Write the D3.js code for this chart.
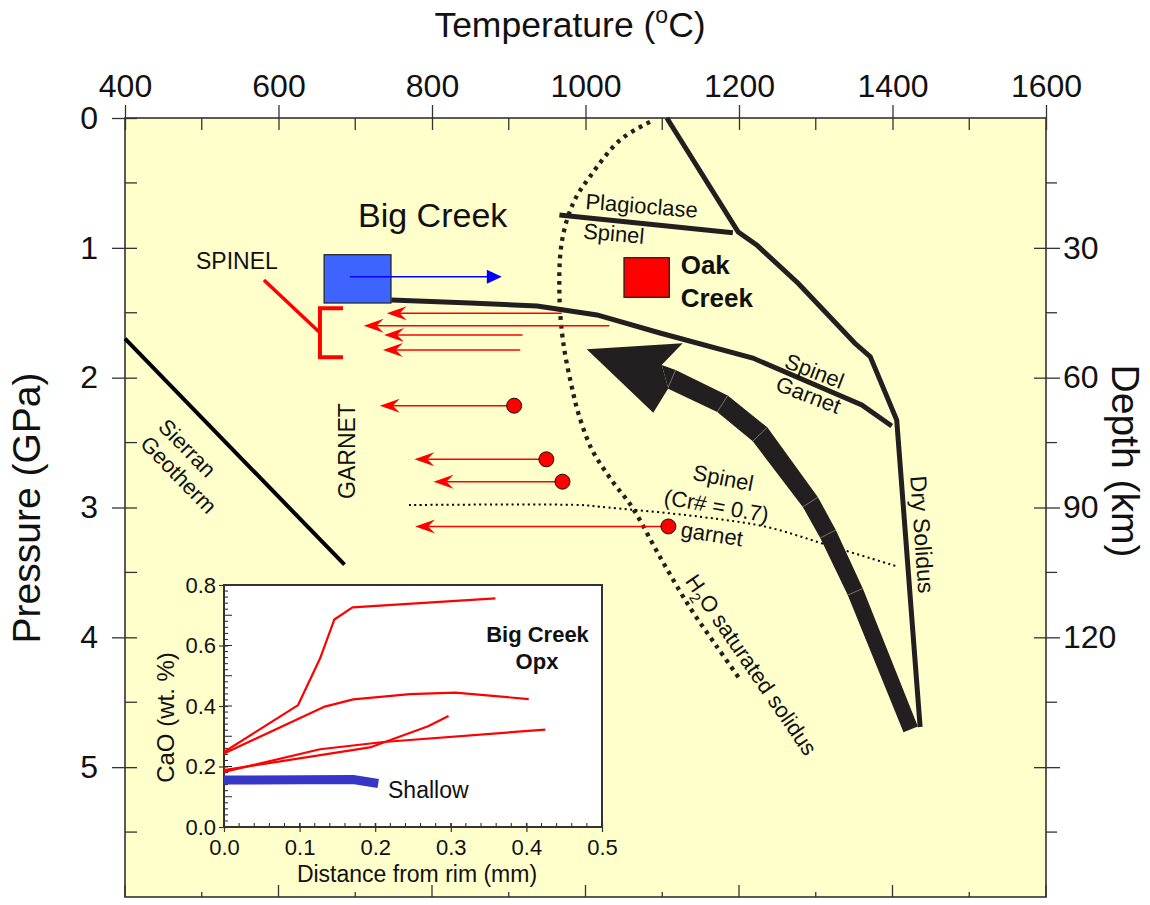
<!DOCTYPE html>
<html>
<head>
<meta charset="utf-8">
<script src="https://cdn.jsdelivr.net/npm/d3@7"></script>
<style>
  html, body { margin: 0; padding: 0; background: #ffffff; }
  svg { display: block; font-family: "Liberation Sans", Arial, Helvetica, sans-serif; }
</style>
</head>
<body>
<svg id="chart" width="1150" height="905"></svg>
<script>
// ---------- axis ranges and ticks ----------
const tempDomain = [400, 1600];
const pressureDomain = [0, 6];
const depthDomain = [0, 180];
const tempTickLabels = [400, 600, 800, 1000, 1200, 1400, 1600];
const tempMinorTicks = [500, 700, 900, 1100, 1300, 1500];
const pressureTickLabels = [0, 1, 2, 3, 4, 5];
const pressureMinorTicks = [0.5, 1.5, 2.5, 3.5, 4.5, 5.5];
const depthTickLabels = [30, 60, 90, 120];
const depthMajorTicks = [30, 60, 90, 120, 150];
const depthMinorTicks = [15, 45, 75, 105, 135, 165];

// ---------- phase boundaries and reference curves, [T (°C), P (GPa)] ----------
const sierranGeotherm = [[400, 1.70], [686, 3.44]];
const plagioclaseSpinel = [[966, 0.747], [1192, 0.883]];
const spinelGarnet = [[747, 1.402], [850, 1.425], [937, 1.448], [1015, 1.517],
                      [1097, 1.656], [1218, 1.849], [1360, 2.211], [1399, 2.372]];
const drySolidus = [[1106, 0], [1199, 0.878], [1223, 0.978], [1277, 1.273],
                    [1351, 1.735], [1371, 1.838], [1405.5, 2.326], [1436, 4.691]];
const wetSolidus = [[1084, 0.03], [1045, 0.17], [1006, 0.45], [984, 0.655], [969, 0.96],
                    [966, 1.35], [971, 1.73], [984, 2.12], [991, 2.28], [1008, 2.55],
                    [1034, 2.79], [1061, 3.0], [1097, 3.38], [1136, 3.77], [1171, 4.07], [1202, 4.33]];
const spinelGarnetCr07 = [[770, 2.981], [993, 2.981], [1019, 2.994], [1149, 3.071],
                          [1236, 3.150], [1322, 3.302], [1407, 3.456]];

// decompression path (broad arrow)
const pathHead = { tip: [1001.6, 1.782], upperBarb: [1126.6, 1.735], lowerBarb: [1088.3, 2.270],
                   backUpper: [1099.3, 1.902], backLower: [1107.9, 2.082] };
const pathBand = [[1112.3, 2.012], [1178.5, 2.201], [1227.4, 2.436], [1293, 2.958],
                  [1316, 3.204], [1351.5, 3.649], [1423.7, 4.709]];

// xenolith equilibration conditions
const bigCreekBox = { t0: 659.4, t1: 746.6, p0: 1.053, p1: 1.425 };
const oakCreekBox = { t0: 1050.2, t1: 1109.2, p0: 1.076, p1: 1.381 };
const bigCreekHeating = { p: 1.222, from: 693, to: 891 };
const spinelCooling = [
  { p: 1.504, from: 969, to: 741 },
  { p: 1.600, from: 1031, to: 711 },
  { p: 1.672, from: 918, to: 737.5 },
  { p: 1.787, from: 915, to: 736 }
];
const garnetCooling = [
  { p: 2.216, from: 907, to: 732 },
  { p: 2.629, from: 949, to: 777 },
  { p: 2.801, from: 970, to: 802 },
  { p: 3.146, from: 1108, to: 778 }
];
const spinelBracket = { t: 654, tEnd: 684, p0: 1.466, p1: 1.843, leaderFrom: [581, 1.248] };

// ---------- inset: CaO profiles in orthopyroxene, [distance (mm), CaO (wt.%)] ----------
const insetXTicks = [0, 0.1, 0.2, 0.3, 0.4, 0.5];
const insetYTicks = [0, 0.2, 0.4, 0.6, 0.8];
const opxProfiles = [
  [[0, 0.248], [0.098, 0.403], [0.127, 0.557], [0.146, 0.686], [0.170, 0.726], [0.359, 0.756]],
  [[0, 0.243], [0.132, 0.397], [0.171, 0.422], [0.246, 0.439], [0.306, 0.444], [0.403, 0.423]],
  [[0, 0.182], [0.127, 0.257], [0.211, 0.281], [0.425, 0.322]],
  [[0, 0.188], [0.193, 0.263], [0.270, 0.333], [0.297, 0.367]]
];
const shallowProfile = [[0, 0.155], [0.171, 0.157], [0.204, 0.144]];

// ---------- drawing ----------
const FONT = '"Liberation Sans", Arial, Helvetica, sans-serif';
const INK = "#231f20";
const svg = d3.select("#chart");
const plot = { left: 125, right: 1046, top: 118, bottom: 897 };

const x = d3.scaleLinear().domain(tempDomain).range([plot.left, plot.right]);
const y = d3.scaleLinear().domain(pressureDomain).range([plot.top, plot.bottom]);
const yDepth = d3.scaleLinear().domain(depthDomain).range([plot.top, plot.bottom]);
const line = d3.line().x(d => x(d[0])).y(d => y(d[1]));

// plot background
svg.append("rect")
  .attr("x", plot.left).attr("y", plot.top)
  .attr("width", plot.right - plot.left).attr("height", plot.bottom - plot.top)
  .attr("fill", "#ffffcc");

function styleAxis(g, size) {
  g.attr("font-family", FONT);
  g.select(".domain").remove();
  g.selectAll(".tick line").attr("stroke", "#333").attr("stroke-width", 1.3);
  g.selectAll(".tick text").attr("font-size", size).attr("fill", "#111");
}

// top: temperature
const topAxis = svg.append("g").attr("transform", `translate(0,${plot.top})`)
  .call(d3.axisTop(x).tickValues(tempTickLabels).tickSize(13).tickPadding(8).tickFormat(d3.format("d")));
styleAxis(topAxis, 32);
topAxis.selectAll(".tick line").attr("y1", 12);
svg.append("g").selectAll("line").data(tempMinorTicks).join("line")
  .attr("x1", d => x(d)).attr("x2", d => x(d))
  .attr("y1", plot.top).attr("y2", plot.top + 12)
  .attr("stroke", "#333").attr("stroke-width", 1.3);

// bottom ticks (inward only)
svg.append("g").selectAll("line").data(tempTickLabels.concat(tempMinorTicks)).join("line")
  .attr("x1", d => x(d)).attr("x2", d => x(d))
  .attr("y1", plot.bottom)
  .attr("y2", d => plot.bottom - (tempTickLabels.includes(d) ? 12 : 5))
  .attr("stroke", "#333").attr("stroke-width", 1.3);

// left: pressure
const leftAxis = svg.append("g").attr("transform", `translate(${plot.left},0)`)
  .call(d3.axisLeft(y).tickValues(pressureTickLabels).tickSize(13).tickPadding(14).tickFormat(d3.format("d")));
styleAxis(leftAxis, 32);
leftAxis.selectAll(".tick line").attr("x1", 12);
svg.append("g").selectAll("line").data(pressureMinorTicks).join("line")
  .attr("x1", plot.left).attr("x2", plot.left + 12)
  .attr("y1", d => y(d)).attr("y2", d => y(d))
  .attr("stroke", "#333").attr("stroke-width", 1.3);

// right: depth
const rightAxis = svg.append("g").attr("transform", `translate(${plot.right},0)`)
  .call(d3.axisRight(yDepth).tickValues(depthMajorTicks).tickSize(14).tickPadding(3)
        .tickFormat(d => depthTickLabels.includes(d) ? d : ""));
styleAxis(rightAxis, 32);
rightAxis.selectAll(".tick line").attr("x1", -12);
svg.append("g").selectAll("line").data(depthMinorTicks).join("line")
  .attr("x1", plot.right).attr("x2", plot.right + 11)
  .attr("y1", d => yDepth(d)).attr("y2", d => yDepth(d))
  .attr("stroke", "#333").attr("stroke-width", 1.3);

// frame
svg.append("rect")
  .attr("x", plot.left).attr("y", plot.top)
  .attr("width", plot.right - plot.left).attr("height", plot.bottom - plot.top)
  .attr("fill", "none").attr("stroke", "#333").attr("stroke-width", 1.6);

// axis titles
const tTitle = svg.append("text").attr("x", 570).attr("y", 37).attr("text-anchor", "middle")
  .attr("font-size", 35.5).attr("fill", "#111");
tTitle.append("tspan").text("Temperature (");
tTitle.append("tspan").attr("dy", -14).attr("font-size", 23).text("o");
tTitle.append("tspan").attr("dy", 14).text("C)");
svg.append("text").attr("transform", "translate(40,508) rotate(-90)").attr("text-anchor", "middle")
  .attr("font-size", 39).attr("fill", "#111").text("Pressure (GPa)");
svg.append("text").attr("transform", "translate(1112,461) rotate(90)").attr("text-anchor", "middle")
  .attr("font-size", 39).attr("fill", "#111").text("Depth (km)");

// ---------- phase diagram content ----------
const g = svg.append("g");

g.append("path").attr("d", line(sierranGeotherm))
  .attr("fill", "none").attr("stroke", "#000").attr("stroke-width", 4);

const smooth = d3.line().x(d => x(d[0])).y(d => y(d[1])).curve(d3.curveCatmullRom);
g.append("path").attr("d", smooth(wetSolidus))
  .attr("fill", "none").attr("stroke", INK).attr("stroke-width", 4.3)
  .attr("stroke-dasharray", "3.8 5");
g.append("path").attr("d", smooth(spinelGarnetCr07))
  .attr("fill", "none").attr("stroke", "#000").attr("stroke-width", 2)
  .attr("stroke-dasharray", "2 3.4");

[plagioclaseSpinel, spinelGarnet, drySolidus].forEach(pts => {
  g.append("path").attr("d", line(pts))
    .attr("fill", "none").attr("stroke", INK).attr("stroke-width", 5)
    .attr("stroke-linejoin", "miter");
});

// broad decompression arrow: band built from its centre line, then the head
const bandWidths = [20, 19.5, 20, 18, 17.5, 16.5, 15.5];
(function drawBand() {
  const head = pathHead;
  const P = (d) => [x(d[0]), y(d[1])];
  const bu = P(head.backUpper), bl = P(head.backLower);
  const start = [(bu[0] + bl[0]) / 2, (bu[1] + bl[1]) / 2];
  const pts = [start].concat(pathBand.map(P));
  const upper = [], lower = [];
  for (let i = 1; i < pts.length; i++) {
    const p = pts[i];
    const dIn = norm([p[0] - pts[i - 1][0], p[1] - pts[i - 1][1]]);
    const dOut = i < pts.length - 1 ? norm([pts[i + 1][0] - p[0], pts[i + 1][1] - p[1]]) : dIn;
    const n0 = [-dIn[1], dIn[0]], n1 = [-dOut[1], dOut[0]];
    const m = norm([n0[0] + n1[0], n0[1] + n1[1]]);
    const len = (bandWidths[i - 1] / 2) / (m[0] * n1[0] + m[1] * n1[1]);
    lower.push([p[0] + m[0] * len, p[1] + m[1] * len]);
    upper.push([p[0] - m[0] * len, p[1] - m[1] * len]);
  }
  const poly = [bu].concat(upper, lower.slice().reverse(), [bl]);
  g.append("path").attr("d", "M" + poly.map(p => p.join(",")).join("L") + "Z").attr("fill", INK);
  // faint seams between band segments
  for (let i = 0; i < upper.length - 1; i++) {
    g.append("line")
      .attr("x1", upper[i][0]).attr("y1", upper[i][1])
      .attr("x2", lower[i][0]).attr("y2", lower[i][1])
      .attr("stroke", "#8c897c").attr("stroke-width", 0.8);
  }
  const hp = [head.tip, head.upperBarb, head.backUpper, head.backLower, head.lowerBarb].map(P);
  g.append("path").attr("d", "M" + hp.map(p => p.join(",")).join("L") + "Z").attr("fill", INK);
  function norm(v) { const l = Math.hypot(v[0], v[1]) || 1; return [v[0] / l, v[1] / l]; }
})();

// red cooling arrows
function leftArrowHead(sel, tx, ty) {
  sel.append("path")
    .attr("d", `M${tx},${ty}L${tx + 20},${ty - 7}L${tx + 13},${ty}L${tx + 20},${ty + 7}Z`)
    .attr("fill", "#ff0000");
}
const red = g.append("g");
spinelCooling.concat(garnetCooling).forEach(a => {
  red.append("line")
    .attr("x1", x(a.from)).attr("x2", x(a.to) + 13)
    .attr("y1", y(a.p)).attr("y2", y(a.p))
    .attr("stroke", "#ff0000").attr("stroke-width", 1.5);
  leftArrowHead(red, x(a.to), y(a.p));
});
red.selectAll("circle").data(garnetCooling).join("circle")
  .attr("cx", d => x(d.from)).attr("cy", d => y(d.p)).attr("r", 7.5)
  .attr("fill", "#ff0000").attr("stroke", "#111").attr("stroke-width", 1);

// spinel bracket with leader
const b = spinelBracket;
red.append("path")
  .attr("d", `M${x(b.tEnd)},${y(b.p0)}H${x(b.t)}V${y(b.p1)}H${x(b.tEnd)}`)
  .attr("fill", "none").attr("stroke", "#ff0000").attr("stroke-width", 4);
red.append("line")
  .attr("x1", x(b.leaderFrom[0])).attr("y1", y(b.leaderFrom[1]))
  .attr("x2", x(b.t)).attr("y2", y((b.p0 + b.p1) / 2))
  .attr("stroke", "#ff0000").attr("stroke-width", 3.5);

// Big Creek and Oak Creek boxes
g.append("rect")
  .attr("x", x(bigCreekBox.t0)).attr("y", y(bigCreekBox.p0))
  .attr("width", x(bigCreekBox.t1) - x(bigCreekBox.t0))
  .attr("height", y(bigCreekBox.p1) - y(bigCreekBox.p0))
  .attr("fill", "#3d64ff").attr("stroke", "#222").attr("stroke-width", 1.2);
g.append("rect")
  .attr("x", x(oakCreekBox.t0)).attr("y", y(oakCreekBox.p0))
  .attr("width", x(oakCreekBox.t1) - x(oakCreekBox.t0))
  .attr("height", y(oakCreekBox.p1) - y(oakCreekBox.p0))
  .attr("fill", "#ff0000").attr("stroke", "#222").attr("stroke-width", 1.3);

// heating arrow
const bh = bigCreekHeating;
g.append("line")
  .attr("x1", x(bh.from)).attr("x2", x(bh.to) - 14)
  .attr("y1", y(bh.p)).attr("y2", y(bh.p))
  .attr("stroke", "#0000ff").attr("stroke-width", 1.5);
g.append("path")
  .attr("d", `M${x(bh.to)},${y(bh.p)}L${x(bh.to) - 15},${y(bh.p) - 7}L${x(bh.to) - 15},${y(bh.p) + 7}Z`)
  .attr("fill", "#0000ff");

// ---------- labels ----------
const labels = [
  { text: "Big Creek", t: 703.6, p: 0.84, size: 34 },
  { text: "SPINEL", t: 492.5, p: 1.163, size: 23 },
  { text: "GARNET", t: 699.7, p: 2.565, size: 23, rot: -90, anchor: "middle" },
  { text: "Sierran", t: 441.7, p: 2.388, size: 22, rot: 45.7 },
  { text: "Geotherm", t: 418.2, p: 2.519, size: 22, rot: 45.7 },
  { text: "Plagioclase", t: 999.3, p: 0.70, size: 22, rot: 4.5 },
  { text: "Spinel", t: 996.4, p: 0.928, size: 22, rot: 5 },
  { text: "Oak", t: 1124, p: 1.204, size: 26, weight: "bold" },
  { text: "Creek", t: 1124, p: 1.453, size: 26, weight: "bold" },
  { text: "Spinel", t: 1257.7, p: 1.92, size: 22, rot: 21 },
  { text: "Garnet", t: 1246, p: 2.095, size: 22, rot: 21 },
  { text: "Spinel", t: 1138.4, p: 2.785, size: 22, rot: 11 },
  { text: "(Cr# = 0.7)", t: 1101, p: 2.975, size: 22, rot: 10 },
  { text: "garnet", t: 1123, p: 3.225, size: 22, rot: 9 },
  { text: "Dry Solidus", t: 1428.4, p: 3.212, size: 23, rot: 86, anchor: "middle" }
];
labels.forEach(l => {
  g.append("text")
    .attr("transform", `translate(${x(l.t)},${y(l.p)}) rotate(${l.rot || 0})`)
    .attr("text-anchor", l.anchor || "start")
    .attr("font-size", l.size).attr("font-weight", l.weight || "normal")
    .attr("fill", "#111").text(l.text);
});
const h2o = g.append("text")
  .attr("transform", `translate(${x(1207.8)},${y(4.244)}) rotate(55.5)`)
  .attr("text-anchor", "middle").attr("font-size", 22).attr("fill", "#111");
h2o.append("tspan").text("H");
h2o.append("tspan").attr("dy", 6).attr("font-size", 15).text("2");
h2o.append("tspan").attr("dy", -6).text("O saturated solidus");

// ---------- inset ----------
const inset = { left: 224, right: 602, top: 585, bottom: 827 };
const xi = d3.scaleLinear().domain([0, 0.5]).range([inset.left, inset.right]);
const yi = d3.scaleLinear().domain([0, 0.8]).range([inset.bottom, inset.top]);
const ig = svg.append("g");
ig.append("rect").attr("x", inset.left).attr("y", inset.top)
  .attr("width", inset.right - inset.left).attr("height", inset.bottom - inset.top)
  .attr("fill", "#ffffff");

const ySmall = d3.range(0, 0.8001, 0.02);
ig.append("g").selectAll("line").data(ySmall).join("line")
  .attr("x1", inset.left).attr("y1", d => yi(d)).attr("y2", d => yi(d))
  .attr("x2", d => inset.left + (Math.abs(d * 10 - Math.round(d * 10)) < 1e-6 ? 8 : 4))
  .attr("stroke", "#222").attr("stroke-width", 1);
const xSmall = d3.range(0, 0.5001, 0.02);
ig.append("g").selectAll("line").data(xSmall).join("line")
  .attr("x1", d => xi(d)).attr("x2", d => xi(d)).attr("y1", inset.bottom)
  .attr("y2", inset.bottom - 4)
  .attr("stroke", "#222").attr("stroke-width", 1);

const iLeft = ig.append("g").attr("transform", `translate(${inset.left},0)`)
  .call(d3.axisLeft(yi).tickValues(insetYTicks).tickSize(5).tickPadding(3).tickFormat(d3.format(".1f")));
styleAxis(iLeft, 22);
iLeft.selectAll(".tick line").attr("x1", 4).attr("stroke-width", 1.2);
const iBottom = ig.append("g").attr("transform", `translate(0,${inset.bottom})`)
  .call(d3.axisBottom(xi).tickValues(insetXTicks).tickSize(5).tickPadding(7).tickFormat(d3.format(".1f")));
styleAxis(iBottom, 22);
iBottom.selectAll(".tick line").attr("y1", -4).attr("stroke-width", 1.2);

ig.append("rect").attr("x", inset.left).attr("y", inset.top)
  .attr("width", inset.right - inset.left).attr("height", inset.bottom - inset.top)
  .attr("fill", "none").attr("stroke", "#333").attr("stroke-width", 2);

const iline = d3.line().x(d => xi(d[0])).y(d => yi(d[1]));
opxProfiles.forEach(pr => {
  ig.append("path").attr("d", iline(pr)).attr("fill", "none")
    .attr("stroke", "#ff0000").attr("stroke-width", 2.2).attr("stroke-linejoin", "round");
});
ig.append("path").attr("d", iline(shallowProfile)).attr("fill", "none")
  .attr("stroke", "#3535c6").attr("stroke-width", 9);

ig.append("text").attr("x", 537.5).attr("y", 641.7).attr("text-anchor", "middle")
  .attr("font-size", 22).attr("font-weight", "bold").attr("fill", "#111").text("Big Creek");
ig.append("text").attr("x", 537).attr("y", 669).attr("text-anchor", "middle")
  .attr("font-size", 22).attr("font-weight", "bold").attr("fill", "#111").text("Opx");
ig.append("text").attr("x", 388).attr("y", 798)
  .attr("font-size", 23).attr("fill", "#111").text("Shallow");
ig.append("text").attr("transform", "translate(174,717.5) rotate(-90)").attr("text-anchor", "middle")
  .attr("font-size", 24).attr("fill", "#111").text("CaO (wt. %)");
ig.append("text").attr("x", 417).attr("y", 882).attr("text-anchor", "middle")
  .attr("font-size", 23).attr("fill", "#111").text("Distance from rim (mm)");
</script>
</body>
</html>
